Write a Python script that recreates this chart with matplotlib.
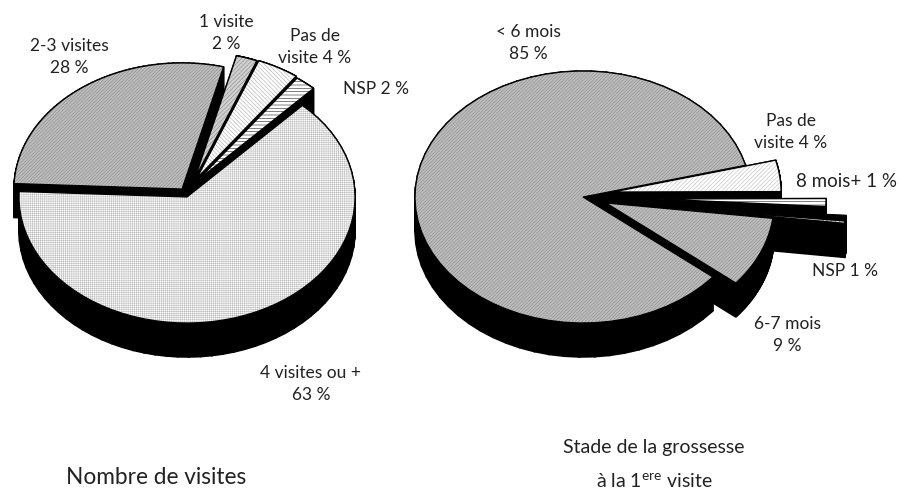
import numpy as np
import matplotlib
matplotlib.use('Agg')
import matplotlib.pyplot as plt
from matplotlib.patches import Polygon

plt.rcParams['font.family'] = ['Lato', 'DejaVu Sans']
plt.rcParams['mathtext.default'] = 'regular'
plt.rcParams['hatch.linewidth'] = 0.35

# Data, clockwise from the start angle
left_names = ['4 visites ou +', '2-3 visites', '1 visite', 'Pas de visite', 'NSP']
left_values = [63, 28, 2, 4, 2]
right_names = ['Pas de visite', '8 mois+', 'NSP', '6-7 mois', '< 6 mois']
right_values = [4, 1, 1, 9, 85]

# Layout of the slices, in pixels
left_start = 46.6
left_apex = [(187, 197), (182, 189), (195, 178), (197, 178), (198, 180)]
right_start = 14.6
right_apex = [(613, 192), (658, 199), (678, 208), (606, 203), (583, 197)]
rx, ry = 168, 126
depth = 34

gray = dict(fc='#bebebe', ec='#808080', hatch='//////////')
dots = dict(fc='#ffffff', ec='#b8b8b8', hatch='++++++++')
light = dict(fc='#ffffff', ec='#a0a0a0', hatch='\\\\\\\\\\\\\\\\')
pale = dict(fc='#ffffff', ec='#b0b0b0', hatch='////////')
stripes = dict(fc='#ffffff', ec='#000000', hatch='-----')
left_styles = [dots, gray, dict(fc='#d0d0d0', ec='#808080', hatch='////////'), light, stripes]
right_styles = [pale, stripes, dict(fc='#d8d8d8', ec='#606060', hatch='....'), gray, gray]


def slice_outline(apex, a0, a1):
    t = np.radians(np.linspace(a0, a1, 60))
    x = apex[0] + rx * np.cos(t)
    y = apex[1] - ry * np.sin(t)
    return np.vstack([[apex], np.column_stack([x, y])])


def draw_pie(ax, values, apexes, styles, start, hidden=None):
    shares = np.array(values) / np.sum(values) * 360
    edges = start - np.concatenate([[0], np.cumsum(shares)])
    outlines = [slice_outline(apexes[i], edges[i], edges[i + 1]) for i in range(len(values))]

    # black sides first, every face goes on top of them
    for pts in outlines:
        for a, b in zip(pts, np.roll(pts, -1, axis=0)):
            quad = [a, b, b + [0, depth], a + [0, depth]]
            ax.add_patch(Polygon(quad, fc='black', ec='black', lw=1.2, zorder=1))

    for i, pts in enumerate(outlines):
        a0, a1 = edges[i], edges[i + 1]
        if hidden and i in hidden:
            # the neighbouring side covers most of this face
            ax.add_patch(Polygon(pts, fc='black', ec='black', lw=0.5, zorder=2))
            pts = slice_outline(apexes[i], a0 + (a1 - a0) * hidden[i], a1)
        ax.add_patch(Polygon(pts, lw=0, zorder=2, **styles[i]))
        ax.add_patch(Polygon(pts, fc='none', ec='black', lw=0.9, zorder=3))


fig = plt.figure(figsize=(9.01, 4.9), dpi=100)
ax = fig.add_axes([0, 0, 1, 1])
ax.set_xlim(0, 901)
ax.set_ylim(490, 0)
ax.axis('off')

draw_pie(ax, left_values, left_apex, left_styles, left_start)
draw_pie(ax, right_values, right_apex, right_styles, right_start, hidden={2: 0.7})

labels = [
    (69, 57, '2-3 visites\n28 %'),
    (226, 33, '1 visite\n2 %'),
    (315, 47, 'Pas de\nvisite 4 %'),
    (376, 89, 'NSP 2 %'),
    (311, 384, '4 visites ou +\n63 %'),
    (528, 43, '< 6 mois\n85 %'),
    (791, 132, 'Pas de\nvisite 4 %'),
    (845, 271, 'NSP 1 %'),
    (787, 335, '6-7 mois\n9 %'),
]
for x, y, s in labels:
    ax.text(x, y, s, ha='center', va='center', fontsize=12.5, color='#222222', linespacing=1.45, zorder=5)
ax.text(847, 181, '8 mois+ 1 %', ha='center', va='center', fontsize=13.5, color='#222222', zorder=5)

ax.text(156, 477, 'Nombre de visites', ha='center', va='center', fontsize=16.3, color='#222222')
ax.text(654, 447, 'Stade de la grossesse', ha='center', va='center', fontsize=14, color='#222222')
ax.text(654, 481, 'à la 1$^{ere}$ visite', ha='center', va='center', fontsize=14, color='#222222')

fig.savefig('out.png', dpi=100)
